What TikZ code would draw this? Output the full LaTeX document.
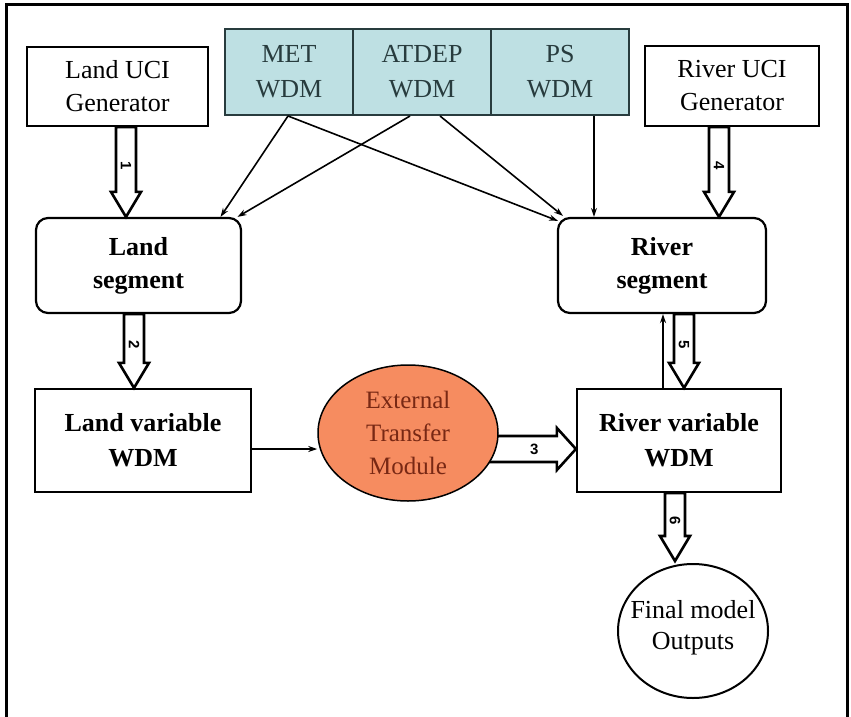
\documentclass[tikz,border=0pt]{standalone}
\usepackage{fontspec}
\setmainfont{Liberation Serif}
\newfontfamily\numfont{Liberation Sans}
\usetikzlibrary{arrows.meta,shapes.geometric,calc,backgrounds}
\definecolor{wdmfill}{RGB}{190,224,227}
\definecolor{wdmtext}{RGB}{40,60,62}
\definecolor{etmfill}{RGB}{246,140,96}
\definecolor{etmtext}{RGB}{120,40,20}
\tikzset{
  box/.style={draw, line width=2.2pt, minimum width=#1, inner sep=0pt, align=center,
    font=\fontsize{26}{33}\selectfont},
  segbox/.style={box=#1, rounded corners=12pt, font=\fontsize{26}{33}\selectfont\bfseries},
  varbox/.style={box=#1, font=\fontsize{26}{35}\selectfont\bfseries},
  wdmcell/.style={draw=wdmtext, line width=2pt, fill=wdmfill, text=wdmtext, minimum height=86pt,
    inner sep=0pt, align=center, font=\fontsize{26}{35}\selectfont},
  oval/.style={ellipse, draw, inner sep=0pt},
  thinarrow/.style={draw, line width=1.6pt, -{Stealth[length=9pt,width=6pt]}},
  hollow/.style={draw, line width=2.6pt, fill=white, line join=miter},
  numlabel/.style={font=\numfont\bfseries\fontsize{15}{15}\selectfont, inner sep=0pt}
}
% hollow block arrow pointing down: #1 start, #2 tip, #3 number
\newcommand\blockdown[3]{%
  \path[hollow] let \p1=#1, \p2=#2 in
    (\x1-10pt,\y1) -- (\x1-10pt,\y2+25pt) -- (\x1-15pt,\y2+25pt) -- (\x1,\y2)
    -- (\x1+15pt,\y2+25pt) -- (\x1+10pt,\y2+25pt) -- (\x1+10pt,\y1) -- cycle;
  \path let \p1=#1, \p2=#2 in
    node[numlabel, rotate=-90] at (\x1, {0.5*(\y1+\y2)+6pt}) {#3};
}
% hollow block arrow pointing right: #1 start, #2 tip, #3 number
\newcommand\blockright[3]{%
  \path[hollow] let \p1=#1, \p2=#2 in
    (\x1,\y2+13pt) -- (\x2-19pt,\y2+13pt) -- (\x2-19pt,\y2+21pt) -- (\x2,\y2)
    -- (\x2-19pt,\y2-21pt) -- (\x2-19pt,\y2-13pt) -- (\x1,\y2-13pt) -- cycle;
  \path let \p1=#1, \p2=#2 in
    node[numlabel] at ({0.5*(\x1+\x2)+3pt}, \y2) {#3};
}
\begin{document}
\begin{tikzpicture}[x=1pt,y=-1pt]
\useasboundingbox (0,0) rectangle (851,717);
% outer frame
\draw[line width=3pt] (6,720) -- (6,5) -- (847,5) -- (847,720);

% generators
\node[box=181pt, minimum height=79pt] (luci) at (117.5,86.5) {Land UCI\\Generator};
\node[box=174pt, minimum height=80pt] (ruci) at (732,86) {River UCI\\Generator};

% input WDM strip
\node[wdmcell, minimum width=128pt] (met) at (289,72) {MET\\WDM};
\node[wdmcell, minimum width=138pt] (atdep) at (422,72) {ATDEP\\WDM};
\node[wdmcell, minimum width=138pt] (ps) at (560,72) {PS\\WDM};

% segments
\node[segbox=205pt, minimum height=95pt] (lseg) at (138.5,265.5) {Land\\segment};
\node[segbox=208pt, minimum height=95pt] (rseg) at (662,265.5) {River\\segment};

% variable WDMs
\node[varbox=216pt, minimum height=103pt] (lvar) at (143,440.5) {Land variable\\WDM};
\node[varbox=204pt, minimum height=103pt] (rvar) at (679,440.5) {River variable\\WDM};

% transfer module
\node[oval, line width=1.5pt, fill=etmfill, minimum width=180pt, minimum height=136pt]
  (etm) at (408,433) {};
\node[text=etmtext, align=center, inner sep=0pt, font=\fontsize{25}{33}\selectfont]
  (etmtext) at (etm.center) {External\\Transfer\\Module};

% model outputs
\node[oval, line width=2pt, minimum width=150pt, minimum height=134pt] (out) at (693,631) {};
\node[align=center, inner sep=0pt, font=\fontsize{26}{31}\selectfont]
  (outtext) at ([yshift=3pt]out.center) {Final model\\Outputs};

% forcing connections
\draw[thinarrow] ([xshift=-1pt]met.south) -- ([xshift=82pt]lseg.north);
\draw[thinarrow] ([xshift=-12pt]atdep.south) -- ([xshift=99pt]lseg.north);
\draw[thinarrow] ([xshift=-1pt]met.south) -- ([xshift=-104pt,yshift=-4pt]rseg.north);
\draw[thinarrow] ([xshift=18pt]atdep.south) -- ([xshift=-99pt,yshift=1pt]rseg.north);
\draw[thinarrow, line width=1.2pt] ([xshift=34pt]ps.south) -- ([xshift=-68pt]rseg.north);

% data flow
\draw[thinarrow] (lvar.east |- 0,449) -- (etm.west |- 0,449);
\draw[thinarrow] ([xshift=-16pt]rvar.north) -- ([xshift=1pt]rseg.south);

\blockdown{([xshift=8.5pt]luci.south)}{([xshift=-12.5pt]lseg.north)}{1}
\blockdown{([xshift=-13pt]ruci.south)}{([xshift=57pt]rseg.north)}{4}
\blockdown{([xshift=-4.5pt]lseg.south)}{([xshift=-9pt]lvar.north)}{2}
\blockdown{([xshift=22pt]rseg.south)}{([xshift=5pt]rvar.north)}{5}
\blockdown{([xshift=-4pt]rvar.south)}{([xshift=-18pt,yshift=2pt]out.north)}{6}

% block arrow from the transfer module into the river variable WDM
\begin{scope}[on background layer]
\blockright{([xshift=-12pt]etm.east)}{(rvar.west |- 0,449)}{3}
\end{scope}
\end{tikzpicture}
\end{document}
